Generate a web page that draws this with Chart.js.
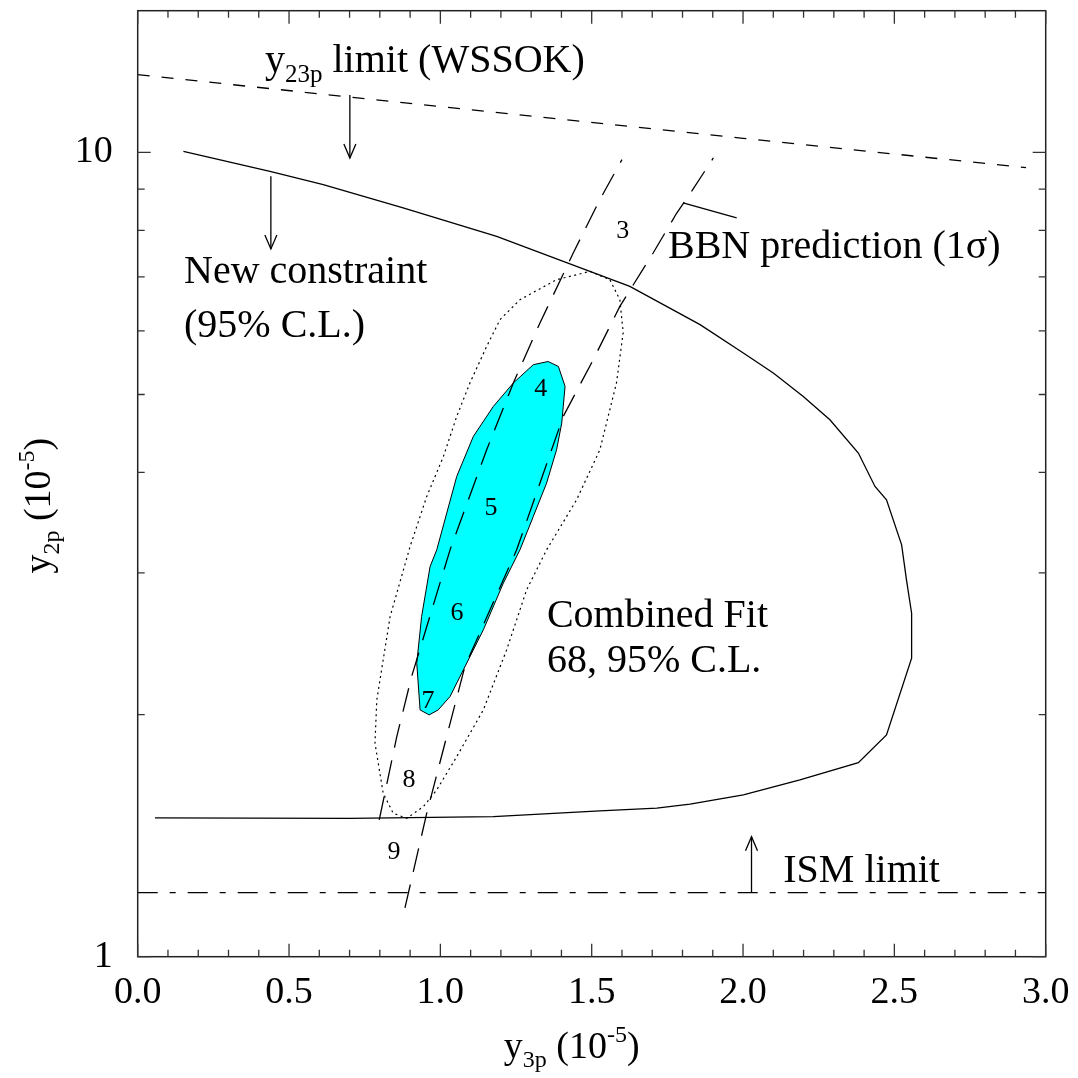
<!DOCTYPE html>
<html>
<head>
<meta charset="utf-8">
<script src="https://cdn.jsdelivr.net/npm/chart.js@4.4.1/dist/chart.umd.min.js"></script>
<style>
  html, body { margin: 0; padding: 0; background: #fff; }
  #wrap { width: 1078px; height: 1078px; position: relative; }
</style>
</head>
<body>
<div id="wrap"><canvas id="chart"></canvas></div>
<script>
// ticks
const xTickValues = [0, 0.5, 1.0, 1.5, 2.0, 2.5, 3.0];
const xTickLabels = ["0.0", "0.5", "1.0", "1.5", "2.0", "2.5", "3.0"];
const xMinorTicks = [0.1, 0.2, 0.3, 0.4, 0.6, 0.7, 0.8, 0.9, 1.1, 1.2, 1.3, 1.4, 1.6, 1.7, 1.8, 1.9, 2.1, 2.2, 2.3, 2.4, 2.6, 2.7, 2.8, 2.9];
const yTickValues = [1, 10];
const yTickLabels = ["1", "10"];
const yMinorTicks = [2, 3, 4, 5, 6, 7, 8, 9];

// new constraint (95% C.L.), solid
const constraintX = [0.057, 0.701, 1.175, 1.527, 1.715, 1.825, 2.001, 2.188, 2.381, 2.474, 2.557, 2.557, 2.540, 2.524, 2.474, 2.436, 2.381, 2.287, 2.199, 2.100, 2.001, 1.858, 1.626, 1.406, 1.186, 0.877, 0.613, 0.437, 0.151];
const constraintY = [1.488, 1.486, 1.493, 1.518, 1.530, 1.548, 1.589, 1.659, 1.743, 1.887, 2.350, 2.673, 2.941, 3.251, 3.698, 3.842, 4.228, 4.651, 4.972, 5.316, 5.630, 6.107, 6.813, 7.318, 7.862, 8.528, 9.117, 9.471, 10.03];

// y23p limit (WSSOK)
const wssokX = [0, 1.0, 2.0, 2.935];
const wssokY = [12.49, 11.40, 10.41, 9.57];

// BBN prediction band edges
const bbnLowX = [0.798, 0.856, 0.905, 1.032, 1.153, 1.241, 1.329, 1.439, 1.527, 1.600];
const bbnLowY = [1.479, 1.878, 2.230, 3.205, 4.268, 5.167, 6.135, 7.497, 8.734, 9.793];
const bbnHighX = [0.883, 0.955, 1.081, 1.252, 1.406, 1.505, 1.593, 1.703, 1.781, 1.830, 1.902];
const bbnHighY = [1.150, 1.508, 2.295, 3.205, 4.695, 5.523, 6.434, 7.497, 8.405, 8.944, 9.841];

// combined fit 95% (dotted) and 68% (filled)
const fit95X = [1.494, 1.560, 1.593, 1.604, 1.582, 1.527, 1.450, 1.351, 1.285, 1.219, 1.142, 1.054, 0.988, 0.944, 0.889, 0.844, 0.811, 0.784, 0.790, 0.834, 0.900, 0.955, 1.010, 1.054, 1.098, 1.153, 1.197, 1.263, 1.384, 1.494];
const fit95Y = [7.112, 6.945, 6.558, 5.968, 5.171, 4.268, 3.698, 3.205, 2.858, 2.407, 2.027, 1.773, 1.612, 1.537, 1.486, 1.508, 1.597, 1.843, 2.086, 2.648, 3.236, 3.733, 4.187, 4.695, 5.171, 5.738, 6.194, 6.558, 6.945, 7.112];
const fit68X = [1.356, 1.390, 1.412, 1.401, 1.384, 1.351, 1.307, 1.263, 1.208, 1.142, 1.076, 1.032, 0.993, 0.963, 0.933, 0.922, 0.938, 0.966, 0.988, 1.054, 1.109, 1.175, 1.241, 1.307, 1.356];
const fit68Y = [5.495, 5.417, 5.117, 4.607, 4.268, 3.880, 3.526, 3.205, 2.913, 2.549, 2.273, 2.106, 2.027, 1.998, 2.027, 2.317, 2.648, 3.055, 3.205, 3.954, 4.435, 4.832, 5.167, 5.445, 5.495];

// ISM limit
const ismX = [0, 3.0];
const ismY = [1.201, 1.201];

// arrows (from -> to) and the BBN pointer
const arrowX = [0.701, 0.440, 2.028];
const arrowFromY = [11.78, 9.336, 1.201];
const arrowToY = [9.84, 7.584, 1.410];
const pointerX = [1.802, 1.979];
const pointerY = [8.652, 8.287];

// eta labels along the band
const bandLabels = ["3", "4", "5", "6", "7", "8", "9"];
const bandLabelX = [1.603, 1.332, 1.167, 1.055, 0.959, 0.896, 0.847];
const bandLabelY = [7.97, 5.083, 3.614, 2.676, 2.080, 1.659, 1.350];

const SERIF = "'Liberation Serif', 'Times New Roman', serif";

function pts(xs, ys) {
  return xs.map((x, i) => ({ x: x, y: ys[i] }));
}

function curve(data, dash, extra) {
  return Object.assign({
    data: data,
    borderColor: "#000",
    borderWidth: 1.3,
    borderDash: dash,
    pointRadius: 0,
    showLine: true,
    fill: false,
    tension: 0,
    order: 0,
  }, extra || {});
}

// text with sub/superscripts: parts = [[text, kind]] kind 0 normal, 1 sub, 2 sup
function drawRich(ctx, parts, x, y, size, align) {
  const small = Math.round(size * 0.62);
  let w = 0;
  parts.forEach(([t, k]) => {
    ctx.font = (k ? small : size) + "px " + SERIF;
    w += ctx.measureText(t).width;
  });
  let cx = align === "center" ? x - w / 2 : x;
  parts.forEach(([t, k]) => {
    ctx.font = (k ? small : size) + "px " + SERIF;
    const dy = k === 1 ? size * 0.24 : k === 2 ? -size * 0.42 : 0;
    ctx.fillText(t, cx, y + dy);
    cx += ctx.measureText(t).width;
  });
}

const notes = [
  { parts: [["y", 0], ["23p", 1], [" limit (WSSOK)", 0]], x: 0.4206, y: 12.57 },
  { parts: [["New constraint", 0]], x: 0.153, y: 6.885 },
  { parts: [["(95% C.L.)", 0]], x: 0.153, y: 5.90 },
  { parts: [["BBN prediction (1\u03c3)", 0]], x: 1.752, y: 7.391 },
  { parts: [["Combined Fit", 0]], x: 1.352, y: 2.573 },
  { parts: [["68, 95% C.L.", 0]], x: 1.352, y: 2.262 },
  { parts: [["ISM limit", 0]], x: 2.133, y: 1.240 },
];

const framePlugin = {
  id: "frame",
  afterDatasetsDraw(chart) {
    const { ctx, chartArea: a, scales } = chart;
    const xs = scales.x, ys = scales.y;
    ctx.save();

    // frame
    ctx.strokeStyle = "#222";
    ctx.lineWidth = 1.5;
    ctx.strokeRect(a.left, a.top, a.right - a.left, a.bottom - a.top);

    // inward ticks on all four sides
    ctx.lineWidth = 1.3;
    ctx.strokeStyle = "#333";
    const xt = (v, len) => {
      const p = xs.getPixelForValue(v);
      ctx.beginPath();
      ctx.moveTo(p, a.bottom); ctx.lineTo(p, a.bottom - len);
      ctx.moveTo(p, a.top); ctx.lineTo(p, a.top + len);
      ctx.stroke();
    };
    const yt = (v, len) => {
      const p = ys.getPixelForValue(v);
      ctx.beginPath();
      ctx.moveTo(a.left, p); ctx.lineTo(a.left + len, p);
      ctx.moveTo(a.right, p); ctx.lineTo(a.right - len, p);
      ctx.stroke();
    };
    xTickValues.forEach(v => xt(v, 13));
    xMinorTicks.forEach(v => xt(v, 7));
    yTickValues.forEach(v => yt(v, 13));
    yMinorTicks.forEach(v => yt(v, 7));

    // arrow heads
    ctx.strokeStyle = "#000";
    ctx.lineWidth = 1.3;
    arrowX.forEach((x, i) => {
      const px = xs.getPixelForValue(x);
      const py = ys.getPixelForValue(arrowToY[i]);
      const dir = arrowToY[i] < arrowFromY[i] ? -1 : 1; // -1 = pointing down
      ctx.beginPath();
      ctx.moveTo(px - 6, py + dir * 14);
      ctx.lineTo(px, py);
      ctx.lineTo(px + 6, py + dir * 14);
      ctx.stroke();
    });

    // annotations
    ctx.fillStyle = "#000";
    ctx.textBaseline = "alphabetic";
    ctx.textAlign = "left";
    notes.forEach(n => {
      drawRich(ctx, n.parts, xs.getPixelForValue(n.x), ys.getPixelForValue(n.y), 40, "left");
    });

    ctx.font = "26px " + SERIF;
    ctx.textAlign = "center";
    ctx.textBaseline = "middle";
    bandLabels.forEach((t, i) => {
      ctx.fillText(t, xs.getPixelForValue(bandLabelX[i]), ys.getPixelForValue(bandLabelY[i]));
    });

    // axis titles
    ctx.textAlign = "left";
    ctx.textBaseline = "alphabetic";
    const cxm = (a.left + a.right) / 2;
    drawRich(ctx, [["y", 0], ["3p", 1], [" (10", 0], ["-5", 2], [")", 0]], cxm - 20, a.bottom + 101, 38, "center");

    ctx.translate(a.left - 88, (a.top + a.bottom) / 2 + 22);
    ctx.rotate(-Math.PI / 2);
    drawRich(ctx, [["y", 0], ["2p", 1], [" (10", 0], ["-5", 2], [")", 0]], 0, 0, 38, "center");

    ctx.restore();
  }
};

const chart = new Chart(document.getElementById("chart"), {
  type: "scatter",
  data: {
    datasets: [
      curve(pts(constraintX, constraintY), []),
      curve(pts(wssokX, wssokY), [12, 12]),
      curve(pts(bbnLowX, bbnLowY), [24, 13]),
      curve(pts(bbnHighX, bbnHighY), [24, 13]),
      curve(pts(fit95X, fit95Y), [2, 3.5], { borderWidth: 1.2 }),
      curve(pts(ismX, ismY), [20, 12, 6, 12]),
      curve(pts([arrowX[0], arrowX[0]], [arrowFromY[0], arrowToY[0]]), []),
      curve(pts([arrowX[1], arrowX[1]], [arrowFromY[1], arrowToY[1]]), []),
      curve(pts([arrowX[2], arrowX[2]], [arrowFromY[2], arrowToY[2]]), []),
      curve(pts(pointerX, pointerY), []),
      curve(pts(fit68X, fit68Y), [], {
        fill: "shape",
        backgroundColor: "#00ffff",
        borderWidth: 1,
        order: 10,
      }),
    ],
  },
  options: {
    responsive: true,
    maintainAspectRatio: false,
    animation: false,
    devicePixelRatio: 1,
    layout: { padding: { top: 10.7, right: 32.3, left: 0, bottom: 0 } },
    plugins: {
      legend: { display: false },
      tooltip: { enabled: false },
    },
    scales: {
      x: {
        type: "linear",
        min: 0,
        max: 3.0,
        afterBuildTicks: (scale) => {
          scale.ticks = xTickValues.map(v => ({ value: v }));
        },
        afterFit: (scale) => {
          scale.height = 121.3;
          scale.paddingLeft = 0;
          scale.paddingRight = 0;
        },
        grid: { display: false, drawTicks: false },
        border: { display: false },
        ticks: {
          autoSkip: false,
          maxRotation: 0,
          padding: 14,
          color: "#000",
          font: { family: SERIF, size: 38 },
          callback: (v) => {
            const i = xTickValues.indexOf(v);
            return i >= 0 ? xTickLabels[i] : "";
          },
        },
      },
      y: {
        type: "logarithmic",
        min: 1,
        max: 15,
        afterBuildTicks: (scale) => {
          scale.ticks = yTickValues.map(v => ({ value: v }));
        },
        afterFit: (scale) => {
          scale.width = 137.7;
          scale.paddingTop = 0;
          scale.paddingBottom = 0;
        },
        grid: { display: false, drawTicks: false },
        border: { display: false },
        ticks: {
          autoSkip: false,
          padding: 25,
          color: "#000",
          font: { family: SERIF, size: 38 },
          callback: (v) => {
            const i = yTickValues.indexOf(v);
            return i >= 0 ? yTickLabels[i] : "";
          },
        },
      },
    },
  },
  plugins: [framePlugin],
});
</script>
</body>
</html>
